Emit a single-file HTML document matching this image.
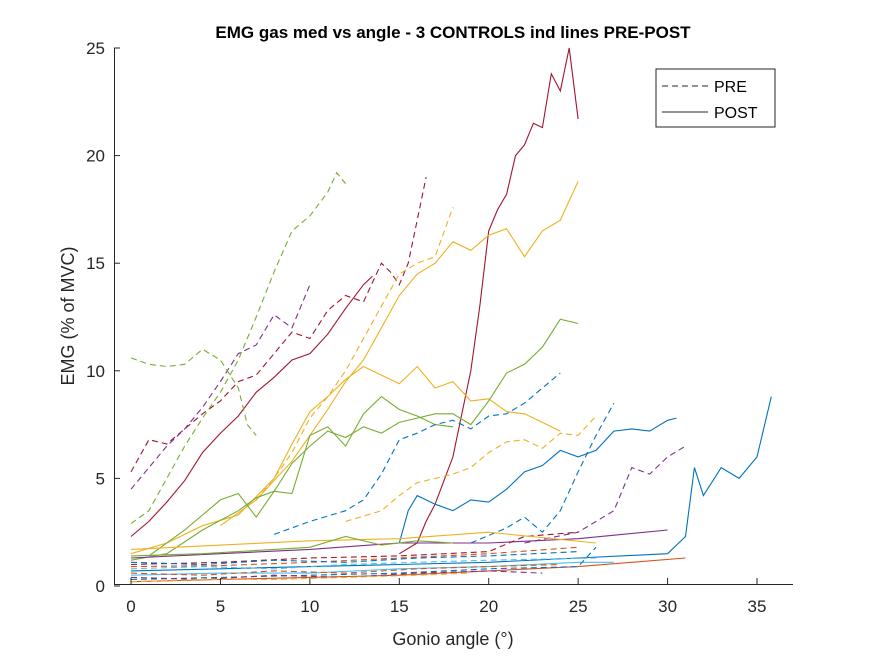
<!DOCTYPE html>
<html><head><meta charset="utf-8"><style>
body{margin:0;background:#fff;}
svg{font-family:"Liberation Sans",Arial,sans-serif;}
</style></head><body>
<svg id="chart" width="875" height="656" xmlns="http://www.w3.org/2000/svg">
<rect width="875" height="656" fill="#fff"/>
<text x="453" y="38" text-anchor="middle" font-size="17" font-weight="bold">EMG gas med vs angle - 3 CONTROLS ind lines PRE-POST</text>
<g id="plot"></g>
<g id="axes"></g>
<text x="453" y="645" text-anchor="middle" font-size="18" fill="#262626">Gonio angle (°)</text>
<text transform="translate(74,316) rotate(-90)" text-anchor="middle" font-size="18" fill="#262626">EMG (% of MVC)</text>
<g>
<rect x="656" y="69" width="119" height="58" fill="#fff" stroke="#262626" stroke-width="1"/>
<line x1="662" y1="86" x2="708" y2="86" stroke="#262626" stroke-dasharray="6,4"/>
<text x="714" y="92" font-size="16" fill="#000">PRE</text>
<line x1="662" y1="112" x2="708" y2="112" stroke="#262626"/>
<text x="714" y="118" font-size="16" fill="#000">POST</text>
</g>
</svg>
<script>
const xTicks=[0,5,10,15,20,25,30,35];
const yTicks=[0,5,10,15,20,25];
const s1x=[15,16,16.5,17,18,19,19.5,20,20.5,21,21.5,22,22.5,23,23.5,24,24.5,25];
const s1y=[1.5,2,3,3.8,6,10,13,16.5,17.5,18.2,20,20.5,21.5,21.3,23.8,23,25,21.7];
const s2x=[0,1,2,3,4,5,6,7,8,9,10,11,12,13,14,14.5,15,15.5,16,16.5];
const s2y=[5.3,6.8,6.6,7.3,8,8.6,9.5,9.8,10.8,11.8,11.5,12.8,13.5,13.2,15,14.6,14,15,17,19];
const s3x=[0,1,2,3,4,5,6,7,8,9,10,11,12,13,13.5];
const s3y=[2.3,3,3.9,4.9,6.2,7.1,7.9,9,9.7,10.5,10.8,11.7,12.9,14,14.4];
const s4x=[0,1,2,3,4,5,6,7,8,9,10];
const s4y=[4.5,5.5,6.5,7.3,8.3,9.5,10.8,11.2,12.6,12,14];
const s5x=[0,1,2,3,4,5,6,6.5,7];
const s5y=[10.6,10.3,10.2,10.3,11,10.5,9.2,7.5,7];
const s6x=[0,1,2,3,4,5,6,7,8,9,10,11,11.5,12];
const s6y=[2.9,3.5,5,6.5,7.8,9,10.5,12.5,14.6,16.5,17.2,18.3,19.2,18.7];
const s7x=[5,7,9,10,11,12,13,14,15,16,17,18,19,20,21,22,23,24,25];
const s7y=[2.8,4,5.8,7,8.2,9.5,10.5,12,13.5,14.5,15,16,15.6,16.3,16.6,15.3,16.5,17,18.8];
const s8x=[7,8,9,10,11,12,13,14,15,16,17,18];
const s8y=[4,5,6.2,7.8,8.8,10,11.5,13,14.5,15,15.3,17.6];
const s9x=[0,2,4,6,8,9,10,11,12,13,14,15,16,17,18,19,20,21,22,23,24];
const s9y=[1.5,2,2.8,3.3,5,6.6,8.1,8.8,9.6,10.2,9.8,9.4,10.2,9.2,9.5,8.6,8.7,8.1,8,7.6,7.2];
const s10x=[12,14,15,16,17,18,19,20,21,22,23,24,25,26];
const s10y=[3,3.5,4.2,4.8,5,5.2,5.5,6.2,6.7,6.8,6.4,7.1,7,7.9];
const s11x=[0,2,4,6,7,8,9,10,11,12,13,14,15,16,17,18,19,20,21,22,23,24,25];
const s11y=[1.2,1.5,2.6,3.5,4.1,4.4,5.7,6.5,7.2,6.9,7.4,7.1,7.6,7.8,8,8,7.5,8.6,9.9,10.3,11.1,12.4,12.2];
const s12x=[1,3,5,6,7,8,9,10,11,12,13,14,15,16,17,18];
const s12y=[1.4,2.6,4,4.3,3.2,4.4,4.3,7,7.4,6.5,8,8.8,8.2,7.9,7.5,7.4];
const s13x=[8,10,12,13,14,15,16,17,18,19,20,21,22,23,24];
const s13y=[2.4,3,3.5,4,5.2,6.8,7.1,7.5,7.7,7.3,7.9,8,8.5,9.2,9.9];
const s14x=[15,15.5,16,17,18,19,20,21,22,23,24,25,26,27,28,29,30,30.5];
const s14y=[2,3.5,4.2,3.8,3.5,4,3.9,4.5,5.3,5.6,6.3,6,6.3,7.2,7.3,7.2,7.7,7.8];
const s15x=[19,21,22,23,24,25,26,27];
const s15y=[2,2.7,3.2,2.5,3.5,5.3,7,8.5];
const s16x=[0,5,10,15,20,25,30,31,31.5,32,33,34,35,35.8];
const s16y=[0.7,0.8,0.9,1,1.1,1.3,1.5,2.3,5.5,4.2,5.5,5,6,8.8];
const s17x=[22,25,27,28,29,30,31];
const s17y=[2,2.5,3.5,5.5,5.2,6,6.5];
const s18x=[0,5,10,15,20,25,30];
const s18y=[1.3,1.5,1.7,2,2,2.2,2.6];
const s19x=[0,5,10,15,20,25];
const s19y=[0.9,0.95,1.1,1.3,1.5,1.8];
const s20x=[0,5,10,15,20,25,31];
const s20y=[0.2,0.3,0.4,0.5,0.7,0.9,1.3];
const s21x=[0,5,10,15,20,22,25];
const s21y=[1,1.1,1.3,1.4,1.6,2.3,2.5];
const s22x=[0,5,10,15,20,25,27];
const s22y=[0.5,0.6,0.6,0.8,0.9,1.1,1.1];
const s23x=[0,5,10,15,20,25,26];
const s23y=[0.3,0.4,0.5,0.6,0.8,0.9,1.8];
const s24x=[0,5,10,15,20,26];
const s24y=[1.7,1.9,2.1,2.2,2.5,2];
const s25x=[0,4,8,12,16,20,24];
const s25y=[0.6,0.5,0.7,0.6,0.8,0.9,1];
const s26x=[0,4,8,12,16,20,23];
const s26y=[0.4,0.3,0.5,0.4,0.6,0.7,0.6];
const s27x=[0,4,8,12,16,20,25];
const s27y=[1.1,1.0,1.2,1.1,1.3,1.4,1.6];
const s28x=[0,4,8,12,16,20,26];
const s28y=[0.8,0.9,0.8,1.0,1.1,1.2,1.3];
const s29x=[0,4,8,12,16,19];
const s29y=[0.2,0.3,0.3,0.4,0.5,0.6];
const s30x=[0,4,8,10,12,14,16,18];
const s30y=[1.4,1.5,1.7,1.8,2.3,1.9,2.1,2];
const series=[
[s1x,s1y,'#A2142F',0],[s2x,s2y,'#A2142F',1],[s3x,s3y,'#A2142F',0],[s4x,s4y,'#7E2F8E',1],
[s5x,s5y,'#77AC30',1],[s6x,s6y,'#77AC30',1],[s7x,s7y,'#EDB120',0],[s8x,s8y,'#EDB120',1],
[s9x,s9y,'#EDB120',0],[s10x,s10y,'#EDB120',1],[s11x,s11y,'#77AC30',0],[s12x,s12y,'#77AC30',0],
[s13x,s13y,'#0072BD',1],[s14x,s14y,'#0072BD',0],[s15x,s15y,'#0072BD',1],[s16x,s16y,'#0072BD',0],
[s17x,s17y,'#7E2F8E',1],[s18x,s18y,'#7E2F8E',0],[s19x,s19y,'#D95319',1],[s20x,s20y,'#D95319',0],
[s21x,s21y,'#A2142F',1],[s22x,s22y,'#4DBEEE',0],[s23x,s23y,'#0072BD',1],[s24x,s24y,'#EDB120',0],
[s25x,s25y,'#D95319',1],[s26x,s26y,'#7E2F8E',1],[s27x,s27y,'#0072BD',1],[s28x,s28y,'#4DBEEE',1],
[s29x,s29y,'#EDB120',1],[s30x,s30y,'#77AC30',0]];
const X=v=>131+(v)*17.886, Y=v=>586-v*21.52;
const NS='http://www.w3.org/2000/svg';
const plot=document.getElementById('plot'), axes=document.getElementById('axes');
series.forEach((s,i)=>{
  const p=document.createElementNS(NS,'polyline');
  
  
  p.setAttribute('points',s[0].map((x,j)=>X(x).toFixed(1)+','+Y(s[1][j]).toFixed(1)).join(' '));
  p.setAttribute('fill','none');p.setAttribute('stroke',s[2]);p.setAttribute('stroke-width','1.1');
  if(s[3])p.setAttribute('stroke-dasharray','6,4');
  plot.appendChild(p);
});
function ln(x1,y1,x2,y2){const l=document.createElementNS(NS,'line');
l.setAttribute('x1',x1);l.setAttribute('y1',y1);l.setAttribute('x2',x2);l.setAttribute('y2',y2);
l.setAttribute('stroke','#262626');axes.appendChild(l);return l;}
const xa=ln(114,584.5,793,584.5);


const ya=ln(114.5,48,114.5,585);


xTicks.forEach(t=>{ln(X(t),584,X(t),578);
 const tx=document.createElementNS(NS,'text');
 
 
 tx.setAttribute('x',X(t));tx.setAttribute('y',612);tx.setAttribute('text-anchor','middle');
 tx.setAttribute('font-size','17');tx.setAttribute('fill','#262626');tx.textContent=t;axes.appendChild(tx);});
yTicks.forEach(t=>{ln(114,Y(t),120,Y(t));
 const tx=document.createElementNS(NS,'text');
 
 
 tx.setAttribute('x',105);tx.setAttribute('y',Y(t)+6);tx.setAttribute('text-anchor','end');
 tx.setAttribute('font-size','17');tx.setAttribute('fill','#262626');tx.textContent=t;axes.appendChild(tx);});
</script>
</body></html>
